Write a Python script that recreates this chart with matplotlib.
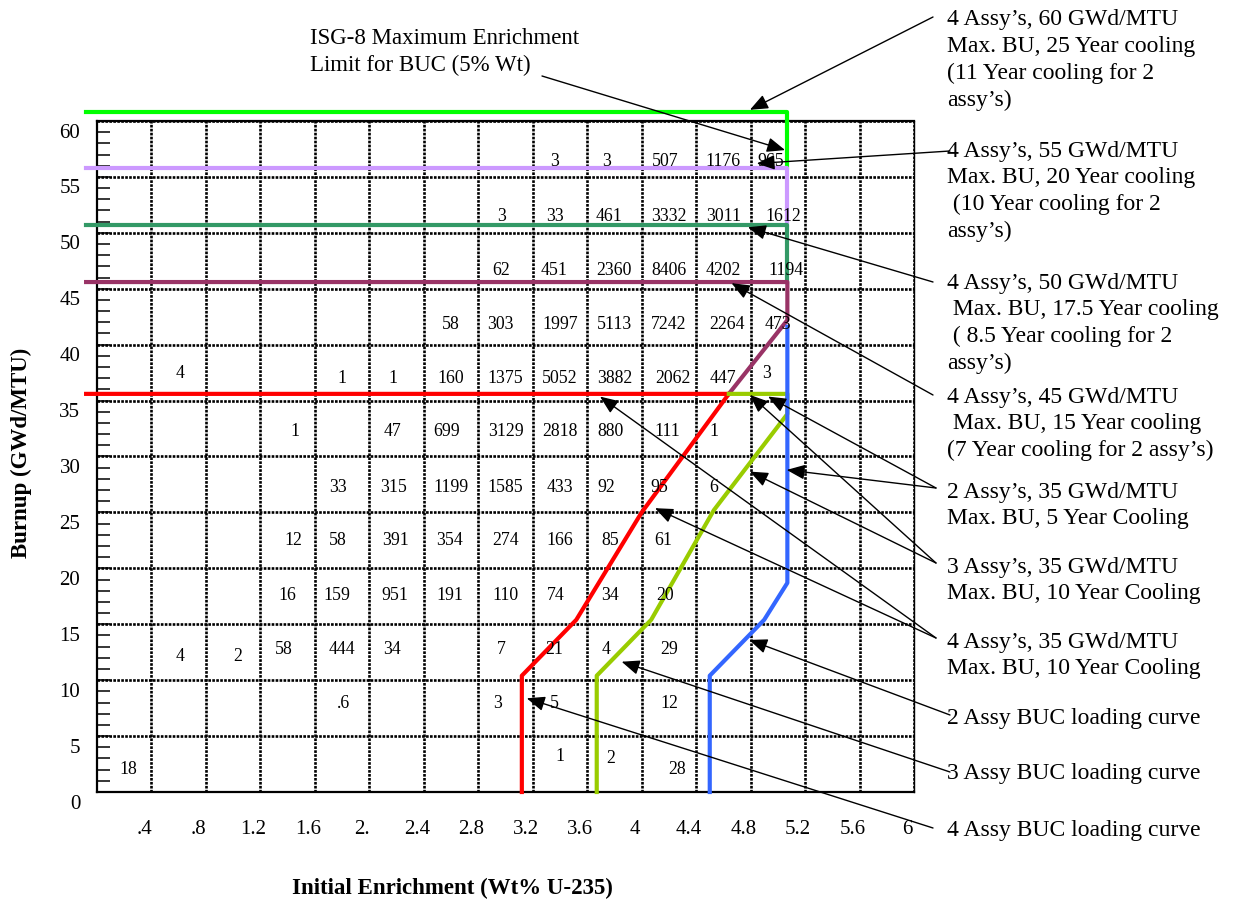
import numpy as np
import matplotlib.pyplot as plt
import matplotlib.transforms as mtransforms
from matplotlib.patches import ArrowStyle
from matplotlib.ticker import MultipleLocator, FixedLocator

plt.rcParams['font.family'] = ['Liberation Serif', 'DejaVu Serif']

# limit lines (enrichment wt%, burnup GWd/MTU)
lim60_x = [-0.08, 5.07, 5.07]
lim60_y = [60.8, 60.8, 55.8]
lim55_x = [-0.08, 5.07, 5.07]
lim55_y = [55.8, 55.8, 50.7]
lim50_x = [-0.08, 5.07, 5.07]
lim50_y = [50.7, 50.7, 45.6]
lim45_x = [-0.08, 5.07, 5.07, 4.64]
lim45_y = [45.6, 45.6, 42.2, 35.6]

# BUC loading curves
buc4_x = [-0.08, 4.64, 4.0, 3.52, 3.12, 3.12]
buc4_y = [35.6, 35.6, 25.0, 15.4, 10.4, 0]
buc3_x = [4.64, 5.07, 5.07, 4.53, 4.07, 3.67, 3.67]
buc3_y = [35.6, 35.6, 33.8, 25.2, 15.4, 10.4, 0]
buc2_x = [5.07, 5.07, 4.90, 4.50, 4.50]
buc2_y = [41.6, 18.7, 15.4, 10.4, 0]

# assembly counts in the enrichment / burnup cells
cell_x = [3.36, 3.74, 4.17, 4.60, 4.95,
          2.97, 3.36, 3.76, 4.20, 4.60, 5.04,
          2.97, 3.36, 3.80, 4.20, 4.60, 5.06,
          2.60, 2.96, 3.40, 3.80, 4.20, 4.63, 5.00,
          0.61, 1.80, 2.17, 2.60, 3.00, 3.40, 3.80, 4.23, 4.60, 4.92,
          1.45, 2.17, 2.57, 3.00, 3.40, 3.77, 4.19, 4.53,
          1.77, 2.18, 2.60, 3.00, 3.40, 3.74, 4.13, 4.53,
          1.44, 1.77, 2.19, 2.59, 3.00, 3.40, 3.77, 4.16,
          1.40, 1.76, 2.19, 2.59, 3.00, 3.37, 3.77, 4.17,
          0.61, 1.03, 1.37, 1.80, 2.17, 2.97, 3.36, 3.74, 4.20,
          1.81, 2.94, 3.36, 4.20,
          0.23, 3.40, 3.77, 4.26]
cell_y = [56.4] * 5 + [51.5] * 6 + [46.6] * 6 + [41.8] * 7 + \
         [37.4, 37.0, 37.0, 37.0, 37.0, 37.0, 37.0, 37.0, 37.0, 37.4] + \
         [32.2] * 8 + [27.2] * 8 + [22.5] * 8 + [17.6] * 8 + \
         [12.1, 12.1, 12.7, 12.7, 12.7, 12.7, 12.7, 12.7, 12.7] + \
         [7.9] * 4 + [2.0, 3.2, 3.0, 2.0]
cell_n = ['3', '3', '507', '1176', '965',
          '3', '33', '461', '3332', '3011', '1612',
          '62', '451', '2360', '8406', '4202', '1194',
          '58', '303', '1997', '5113', '7242', '2264', '473',
          '4', '1', '1', '160', '1375', '5052', '3882', '2062', '447', '3',
          '1', '47', '699', '3129', '2818', '880', '111', '1',
          '33', '315', '1199', '1585', '433', '92', '95', '6',
          '12', '58', '391', '354', '274', '166', '85', '61',
          '16', '159', '951', '191', '110', '74', '34', '20',
          '4', '2', '58', '444', '34', '7', '21', '4', '29',
          '.6', '3', '5', '12',
          '18', '1', '2', '28']

x_ticks = np.arange(0.4, 6.01, 0.4)
x_labels = ['.4', '.8', '1.2', '1.6', '2.', '2.4', '2.8', '3.2', '3.6', '4',
            '4.4', '4.8', '5.2', '5.6', '6']

# callouts: text lines, first line position (figure px from top-left)
notes = [
    (947, 20, ["4 Assy\u2019s, 60 GWd/MTU", "Max. BU, 25 Year cooling",
               "(11 Year cooling for 2", "assy\u2019s)"]),
    (947, 151, ["4 Assy\u2019s, 55 GWd/MTU", "Max. BU, 20 Year cooling",
                " (10 Year cooling for 2", "assy\u2019s)"]),
    (947, 283, ["4 Assy\u2019s, 50 GWd/MTU", " Max. BU, 17.5 Year cooling",
                " ( 8.5 Year cooling for 2", "assy\u2019s)"]),
    (947, 397, ["4 Assy\u2019s, 45 GWd/MTU", " Max. BU, 15 Year cooling",
                "(7 Year cooling for 2 assy\u2019s)"]),
    (947, 492, ["2 Assy\u2019s, 35 GWd/MTU", "Max. BU, 5 Year Cooling"]),
    (947, 567, ["3 Assy\u2019s, 35 GWd/MTU", "Max. BU, 10 Year Cooling"]),
    (947, 642, ["4 Assy\u2019s, 35 GWd/MTU", "Max. BU, 10 Year Cooling"]),
    (947, 718, ["2 Assy BUC loading curve"]),
    (947, 773, ["3 Assy BUC loading curve"]),
    (947, 830, ["4 Assy BUC loading curve"]),
]
isg_lines = ["ISG-8 Maximum Enrichment", "Limit for BUC (5% Wt)"]

# arrows: start (figure px from top-left) -> tip (data)
arrow_start = [(542, 76), (933, 17), (950, 151), (933, 282), (933, 395),
               (936, 488), (936, 488), (936, 563), (936, 563),
               (936, 638), (936, 638), (950, 715), (950, 772), (933, 828)]
arrow_tip = [(5.053, 57.4), (4.795, 61.0), (4.845, 56.2), (4.78, 50.5),
             (4.66, 45.5), (4.928, 35.36), (5.065, 28.8), (4.795, 35.51),
             (4.795, 28.65), (3.694, 35.36), (4.098, 25.38), (4.79, 13.6),
             (3.853, 11.65), (3.156, 8.38)]

W, H = 1233, 905
fig = plt.figure(figsize=(W / 100, H / 100), dpi=100)
ax = fig.add_axes([97 / W, 1 - 792 / H, 817 / W, 671 / H])
ax.set_xlim(0, 6)
ax.set_ylim(0, 60)

ax.xaxis.set_major_locator(FixedLocator(x_ticks))
ax.set_xticklabels(x_labels)
ax.yaxis.set_major_locator(MultipleLocator(5))
ax.yaxis.set_minor_locator(MultipleLocator(1))
ax.grid(True, which='major', color='black', linestyle=(0, (1.0, 0.5)), linewidth=1.9, zorder=1)
ax.set_axisbelow(True)

ax.tick_params(axis='x', length=0, pad=20, labelsize=15)
ax.tick_params(axis='y', which='both', direction='in', length=9, width=1.1,
               pad=12, labelsize=15)
for lab in ax.get_xticklabels():
    lab.set_transform(lab.get_transform() + mtransforms.ScaledTranslation(-0.07, 0, fig.dpi_scale_trans))
for lab in ax.get_yticklabels():
    lab.set_transform(lab.get_transform() + mtransforms.ScaledTranslation(0, -0.095, fig.dpi_scale_trans))

for s in ['left', 'bottom', 'top']:
    ax.spines[s].set_linewidth(1.6)
ax.spines['right'].set_linewidth(1.0)

lw = 3
ax.plot(lim60_x, lim60_y, color='#00FF00', lw=lw, clip_on=False, zorder=3)
ax.plot(lim55_x, lim55_y, color='#CC99FF', lw=lw, clip_on=False, zorder=3)
ax.plot(lim50_x, lim50_y, color='#339966', lw=lw, clip_on=False, zorder=3)
ax.plot(lim45_x, lim45_y, color='#993366', lw=lw, clip_on=False, zorder=3)
ax.plot(buc4_x, buc4_y, color='#FF0000', lw=lw, clip_on=False, zorder=3)
ax.plot(buc3_x, buc3_y, color='#99CC00', lw=lw, clip_on=False, zorder=3)
ax.plot(buc2_x, buc2_y, color='#3366FF', lw=lw, clip_on=False, zorder=3)

for x, y, n in zip(cell_x, cell_y, cell_n):
    ax.text(x, y, n, ha='center', va='center', fontsize=12.8, zorder=4)

astyle = ArrowStyle('-|>', head_length=1.1, head_width=0.45)
for (sx, sy), tip in zip(arrow_start, arrow_tip):
    ax.annotate('', xy=tip, xycoords='data', xytext=(sx, H - sy),
                textcoords='figure pixels', annotation_clip=False,
                arrowprops=dict(arrowstyle=astyle, mutation_scale=10, color='black',
                                lw=1.0, shrinkA=0, shrinkB=0), zorder=5)

for x0, y0, lines in notes:
    for i, line in enumerate(lines):
        fig.text(x0 / W, 1 - (y0 + i * 26.7) / H, line, ha='left', va='center', fontsize=17)
for i, line in enumerate(isg_lines):
    fig.text(310 / W, 1 - (39 + i * 26) / H, line, ha='left', va='center', fontsize=16.5)

fig.text(21 / W, 1 - 453 / H, 'Burnup (GWd/MTU)', rotation=90, ha='center', va='center',
         fontsize=16.5, fontweight='bold')
fig.text(452 / W, 1 - 888 / H, 'Initial Enrichment (Wt% U-235)', ha='center', va='center',
         fontsize=16.5, fontweight='bold')

fig.savefig('out.png', dpi=100)
